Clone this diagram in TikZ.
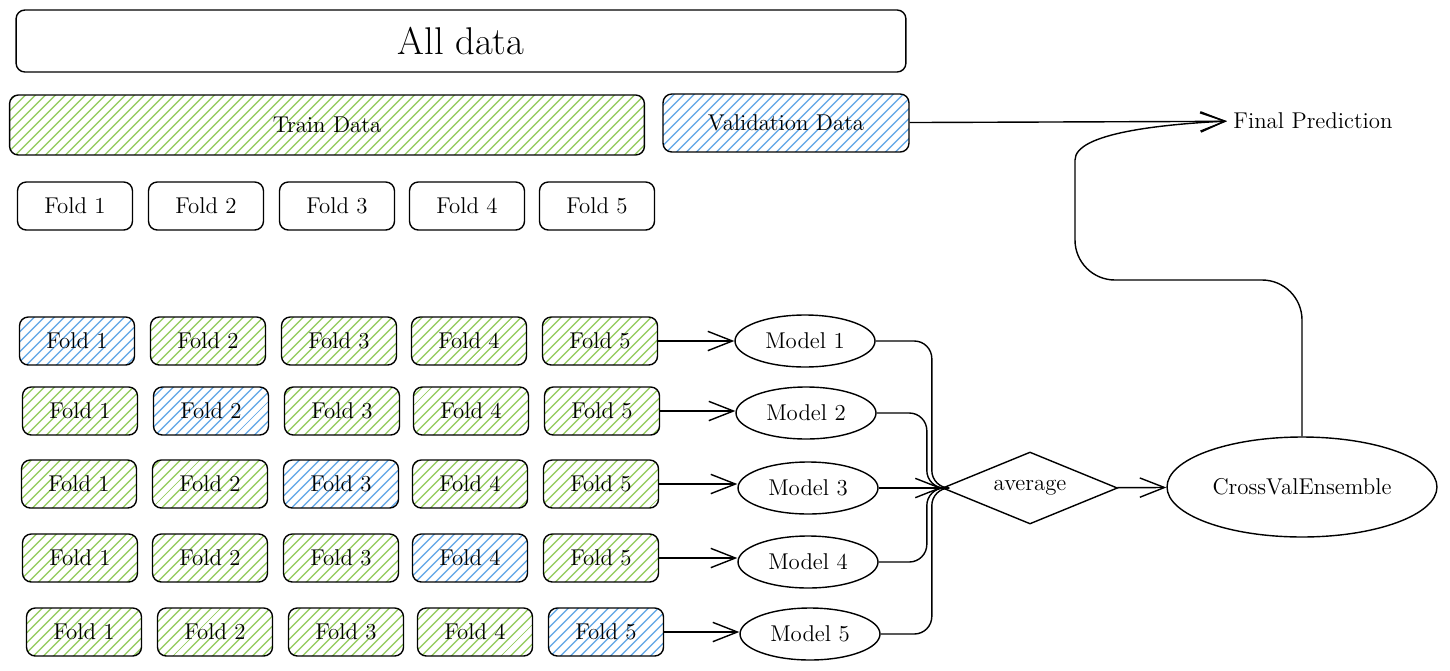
\documentclass[tikz,border=0pt]{standalone}
\usetikzlibrary{shapes.geometric}
\usetikzlibrary{arrows.meta}
\usetikzlibrary{patterns.meta}
\definecolor{hatchgreen}{HTML}{9CCF6B}
\definecolor{hatchblue}{HTML}{6FAEE8}

\begin{document}
\begin{tikzpicture}[x=0.02cm,y=-0.02cm,line width=0.8pt,font=\fontsize{13}{15}\selectfont,
    box/.style={draw,rounded corners=5pt,minimum width=2.3cm,minimum height=0.96cm,inner sep=0pt},
    trn/.style={box,pattern={Lines[angle=45,distance=4pt,line width=0.9pt]},pattern color=hatchgreen},
    val/.style={box,pattern={Lines[angle=45,distance=4pt,line width=0.9pt]},pattern color=hatchblue},
    model/.style={draw,ellipse,minimum width=2.8cm,minimum height=1.04cm,inner sep=0pt},
    tip/.style={-{Straight Barb[length=14pt,width=11pt]}}]
  \useasboundingbox (0,0) rectangle (1450,670);

  \node[box,minimum width=17.8cm,minimum height=1.24cm,font=\fontsize{22}{26}\selectfont] (all) at (461,41) {All data};
  \node[trn,minimum width=12.7cm,minimum height=1.2cm] (train) at (327,125) {Train Data};
  \node[val,minimum width=4.92cm,minimum height=1.16cm] (valid) at (786,123) {Validation Data};
  \node (fp) at (1313,121) {Final Prediction};

  \node[box] (f1) at (75,206) {Fold 1};
  \node[box] (f2) at (206,206) {Fold 2};
  \node[box] (f3) at (337,206) {Fold 3};
  \node[box] (f4) at (467,206) {Fold 4};
  \node[box] (f5) at (597,206) {Fold 5};

  % one row per split, the blue fold is held out
  \node[val] (a1) at (77,341) {Fold 1};
  \node[trn] (a2) at (208,341) {Fold 2};
  \node[trn] (a3) at (339,341) {Fold 3};
  \node[trn] (a4) at (469,341) {Fold 4};
  \node[trn] (a5) at (600,341) {Fold 5};

  \node[trn] (b1) at (80,411) {Fold 1};
  \node[val] (b2) at (211,411) {Fold 2};
  \node[trn] (b3) at (342,411) {Fold 3};
  \node[trn] (b4) at (471,411) {Fold 4};
  \node[trn] (b5) at (602,411) {Fold 5};

  \node[trn] (c1) at (79,484) {Fold 1};
  \node[trn] (c2) at (210,484) {Fold 2};
  \node[val] (c3) at (341,484) {Fold 3};
  \node[trn] (c4) at (470,484) {Fold 4};
  \node[trn] (c5) at (601,484) {Fold 5};

  \node[trn] (d1) at (80,558) {Fold 1};
  \node[trn] (d2) at (210,558) {Fold 2};
  \node[trn] (d3) at (341,558) {Fold 3};
  \node[val] (d4) at (470,558) {Fold 4};
  \node[trn] (d5) at (601,558) {Fold 5};

  \node[trn] (e1) at (84,632) {Fold 1};
  \node[trn] (e2) at (215,632) {Fold 2};
  \node[trn] (e3) at (346,632) {Fold 3};
  \node[trn] (e4) at (475,632) {Fold 4};
  \node[val] (e5) at (606,632) {Fold 5};

  \node[model] (m1) at (805,341) {Model 1};
  \node[model] (m2) at (806,413) {Model 2};
  \node[model] (m3) at (808,488) {Model 3};
  \node[model] (m4) at (808,562) {Model 4};
  \node[model] (m5) at (810,634) {Model 5};

  \node[draw,diamond,aspect=2.4,minimum width=3.5cm,minimum height=1.44cm,inner sep=0pt] (avg) at (1030,488) {average};
  \node[draw,ellipse,minimum width=5.4cm,minimum height=2cm,inner sep=0pt] (cve) at (1302,487) {CrossValEnsemble};
  \coordinate (turn) at (1075,280);
  \coordinate (rise) at (1075,200);

  \draw[tip] (a5.east) -- (a5.east -| m1.west);
  \draw[tip] (b5.east) -- (b5.east -| m2.west);
  \draw[tip] (c5.east) -- (c5.east -| m3.west);
  \draw[tip] (d5.east) -- (d5.east -| m4.west);
  \draw[tip] (e5.east) -- (e5.east -| m5.west);

  \draw[rounded corners=10pt] (m1.east) -| ([xshift=-0.2cm]avg.west) -- (avg.west);
  \draw[rounded corners=10pt] (m2.east) -| ([xshift=-0.3cm]avg.west) -- (avg.west);
  \draw[rounded corners=10pt] (m4.east) -| ([xshift=-0.3cm]avg.west) -- (avg.west);
  \draw[rounded corners=10pt] (m5.east) -| ([xshift=-0.2cm]avg.west) -- (avg.west);
  \draw[tip] (m3) -- (avg);
  \draw[tip] (avg) -- (cve);

  \draw[tip] (valid) -- (fp);
  \draw[tip] (cve.north) [rounded corners=0.8cm] |- (turn) -- (rise) [sharp corners] to[out=90,in=183] (fp.west);
\end{tikzpicture}
\end{document}
